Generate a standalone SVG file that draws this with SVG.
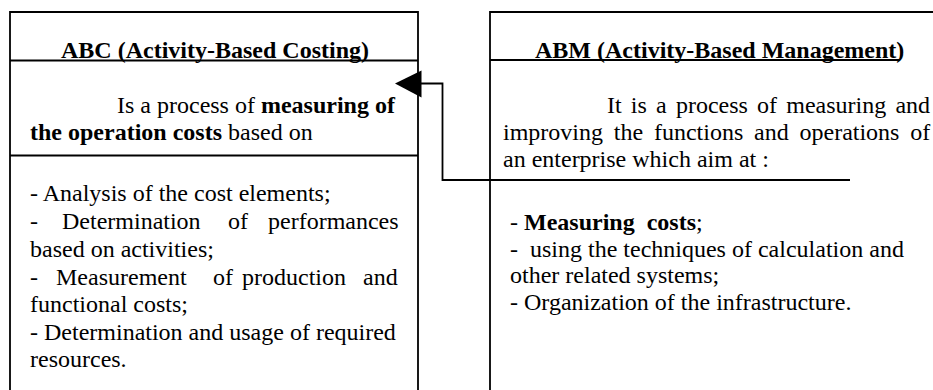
<svg xmlns="http://www.w3.org/2000/svg" width="933" height="390" viewBox="0 0 933 390">
<style>
.ln{fill:none;stroke:#000;stroke-width:1.8}
text{font-size:24px;fill:#000}
.b{font-weight:bold}
</style>
<rect width="933" height="390" fill="#fff"/>
<g font-family="Liberation Serif, Tinos, Times New Roman, DejaVu Serif, serif">
<g id="abc">
<path class="ln" d="M10,390 V12 H418 V390 M10,60.5 H418 M10,155.5 H418"/>
<text class="b" x="61" y="58">ABC (Activity-Based Costing)</text>
<text x="117" y="113">Is a process of <tspan class="b">measuring of</tspan></text>
<text x="30" y="140"><tspan class="b">the operation costs</tspan> based on</text>
<text x="30" y="201">- Analysis of the cost elements;</text>
<text y="229"><tspan x="30">-</tspan><tspan x="62">Determination</tspan><tspan x="228">of</tspan><tspan x="268">performances</tspan></text>
<text x="30" y="257">based on activities;</text>
<text y="285"><tspan x="30">-</tspan><tspan x="56">Measurement</tspan><tspan x="213">of</tspan><tspan x="242">production</tspan><tspan x="363">and</tspan></text>
<text x="30" y="312">functional costs;</text>
<text x="30" y="340">- Determination and usage of required</text>
<text x="30" y="367">resources.</text>
</g>
<g id="abm">
<path class="ln" d="M490,390 V12 H933 M490,60 H900"/>
<text class="b" x="535" y="58">ABM (Activity-Based Management)</text>
<text x="607" y="113" word-spacing="3.2">It is a process of measuring and</text>
<text x="503" y="140" word-spacing="4.8">improving the functions and operations of</text>
<text x="503" y="167">an enterprise which aim at :</text>
<text x="510" y="230" xml:space="preserve">- <tspan class="b">Measuring  costs</tspan>;</text>
<text x="510" y="257" xml:space="preserve">-  using the techniques of calculation and</text>
<text x="510" y="283">other related systems;</text>
<text x="510" y="310">- Organization of the infrastructure.</text>
</g>
</g>
<g id="connectors">
<path class="ln" d="M421,83.5 H442.5 V180 H850"/>
<polygon points="395,83.5 421.5,70.5 421.5,97.5" fill="#000"/>
</g>
</svg>
